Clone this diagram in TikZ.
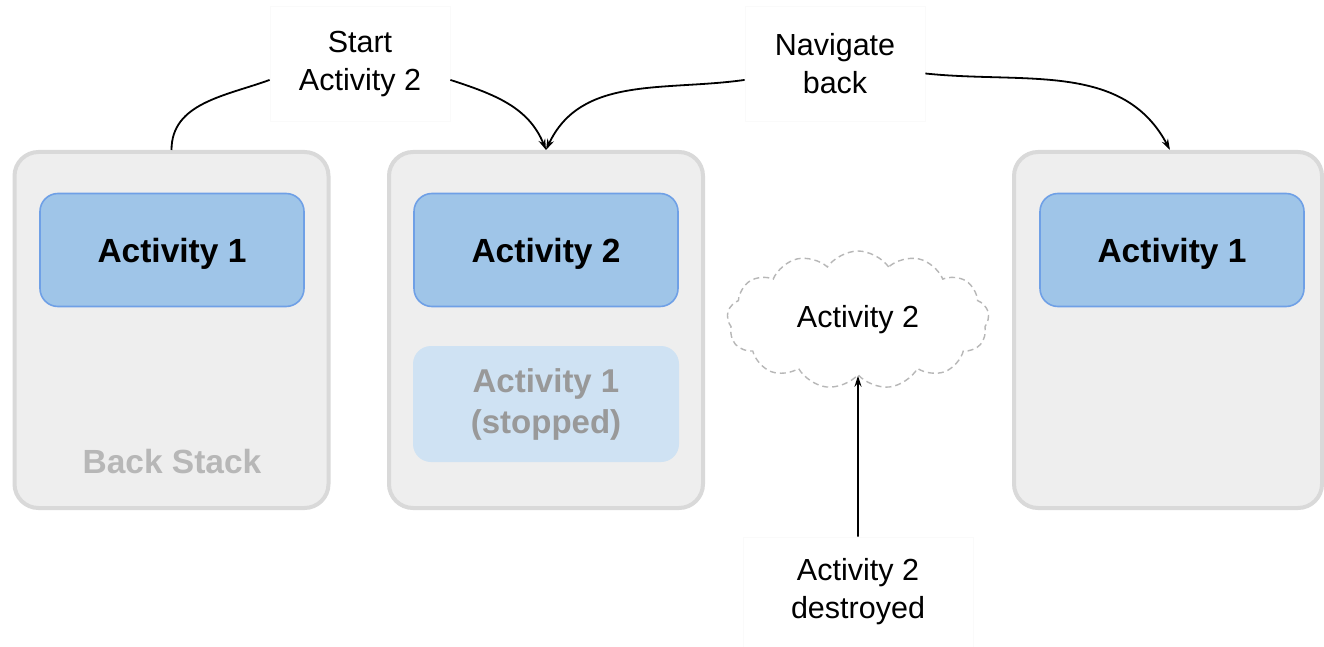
\documentclass[tikz,border=0pt]{standalone}
\usepackage{fontspec}
\setmainfont{Liberation Sans}
\usetikzlibrary{arrows.meta,shapes.symbols}
\definecolor{stackfill}{HTML}{EEEEEE}
\definecolor{stackdraw}{HTML}{D9D9D9}
\definecolor{actfill}{HTML}{9FC5E8}
\definecolor{actdraw}{HTML}{6FA0E6}
\definecolor{stopfill}{HTML}{CFE2F3}
\definecolor{stoptext}{HTML}{999999}
\definecolor{backtext}{HTML}{B7B7B7}
\definecolor{cloudline}{HTML}{B7B7B7}
\definecolor{lblborder}{HTML}{FAFAFA}
\tikzset{
  stackbox/.style={draw=stackdraw, line width=4pt, fill=stackfill, rounded corners=24pt, minimum width=314pt, minimum height=356pt, inner sep=0pt},
  actbox/.style={draw=actdraw, line width=1.6pt, fill=actfill, rounded corners=18pt, minimum width=264pt, minimum height=113pt, inner sep=0pt, text height=24pt, text depth=0pt, font=\fontsize{33.5}{38}\selectfont\bfseries},
  stopbox/.style={fill=stopfill, rounded corners=18pt, minimum width=266pt, minimum height=116pt, inner sep=0pt, align=center, text=stoptext, font=\fontsize{33}{41}\selectfont\bfseries},
  lbl/.style={fill=white, draw=lblborder, line width=0.8pt, align=center, inner sep=0pt, font=\fontsize{30.5}{38}\selectfont},
  conn/.style={line width=1.8pt, black},
  arr/.style={conn, -{Stealth[length=11pt,width=7pt]}},
}
\begin{document}
\begin{tikzpicture}[x=1pt,y=-1pt]
\useasboundingbox[fill=white] (0,0) rectangle (1324,647);
% stacks
\node[stackbox] (s1) at (171.5,330) {};
\node[stackbox] (s2) at (546,330) {};
\node[stackbox, minimum width=308pt] (s3) at (1168,330) {};
% activities
\node[actbox] (a1) at (172,250) {Activity 1};
\node[actbox] (a2) at (546,250) {Activity 2};
\node[stopbox] (a1s) at (546,404) {Activity 1\\(stopped)};
\node[text=backtext, font=\fontsize{33.5}{40}\selectfont\bfseries] (bs) at (172,462) {Back Stack};
\node[actbox] (a3) at (1172,250) {Activity 1};
% cloud
\node[cloud, cloud puffs=13, cloud puff arc=110, aspect=2, draw=cloudline, dashed, dash pattern=on 6pt off 4pt, line width=1.4pt, minimum width=262pt, minimum height=138pt, inner sep=0pt, font=\fontsize{30.5}{38}\selectfont] (cl) at (858,320) {Activity 2};
% labels
\node[lbl, minimum width=180pt, minimum height=115pt] (sa) at (360,64) {Start\\Activity 2};
\node[lbl, minimum width=180pt, minimum height=115pt] (nb) at (835,64) {Navigate\\back};
\node[lbl, minimum width=230pt, minimum height=110pt] (ds) at (858,592) {Activity 2\\destroyed};
% connectors
\draw[conn] (s1.north) to[out=90, in=200] (sa.190);
\draw[arr] (sa.350) to[out=-18, in=112] (s2.north);
\draw[arr] (nb.190) to[out=188, in=65] (s2.north);
\draw[arr] (nb.354) to[out=-6, in=118] ([xshift=2pt]s3.north);
\draw[arr] (ds.north) -- (cl.south);
\end{tikzpicture}
\end{document}
